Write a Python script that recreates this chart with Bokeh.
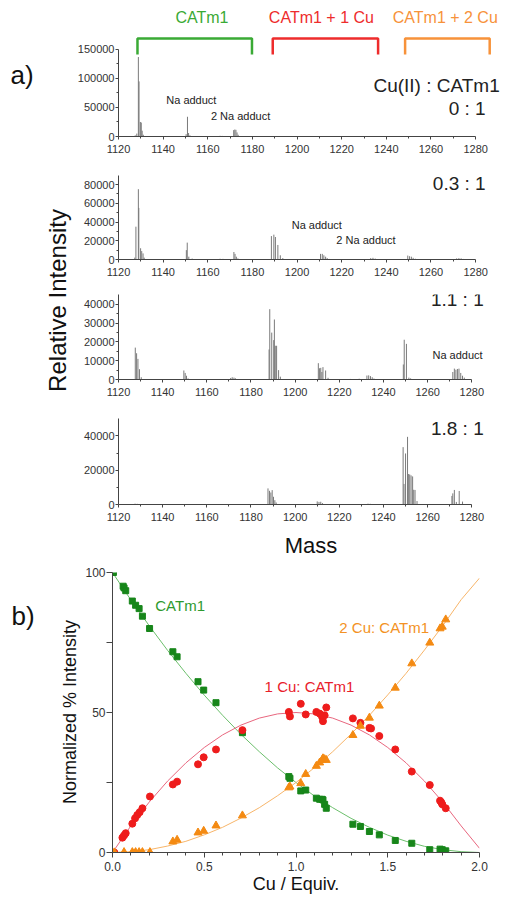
import math
from bokeh.plotting import figure
from bokeh.layouts import column, row
from bokeh.models import Range1d, FixedTicker, BasicTickFormatter, PrintfTickFormatter, Label
from bokeh.embed import file_html
from bokeh.resources import INLINE

FONT = "Liberation Sans"

# ---------------- data: panel a (mass spectra) ----------------
mass_ticks = [1120, 1140, 1160, 1180, 1200, 1220, 1240, 1260, 1280]
mass_minor = [1130, 1150, 1170, 1190, 1210, 1230, 1250, 1270]

ratios = ["0 : 1", "0.3 : 1", "1.1 : 1", "1.8 : 1"]

# Cu(II):CATm1 = 0:1
s0_mass = [1127.5, 1128.2, 1128.9, 1129.2, 1129.8, 1130.2, 1130.6, 1131.1,
           1150.3, 1150.9, 1151.4, 1152.0, 1165.5, 1166.5,
           1171.6, 1172.1, 1172.6, 1173.1, 1173.6]
s0_int = [2000, 5000, 137000, 95000, 25000, 24000, 10000, 3000,
          4000, 34000, 6000, 2000, 1200, 1000,
          11000, 12000, 11500, 7000, 3000]

# 0.3:1
s1_mass = [1127.3, 1127.8, 1128.9, 1129.1, 1129.9, 1130.4, 1131.0, 1131.5,
           1150.4, 1150.8, 1151.5, 1153.0, 1165.5, 1166.8,
           1171.7, 1172.2, 1172.8, 1173.5,
           1188.5, 1189.6, 1190.3, 1191.4, 1192.5, 1193.6,
           1210.5, 1211.3, 1212.0, 1212.8, 1213.5, 1214.5,
           1233.0, 1234.0, 1235.0,
           1249.6, 1250.4, 1251.2, 1252.0, 1253.0,
           1271.5, 1272.5, 1273.5, 1274.5]
s1_int = [2000, 35000, 75000, 55000, 12000, 9000, 6500, 2000,
          10000, 18000, 3000, 1000, 800, 700,
          8000, 6000, 3000, 1200,
          25000, 26500, 24000, 15500, 4500, 1500,
          6000, 6000, 4500, 3000, 1500, 600,
          1500, 1800, 1000,
          4200, 3500, 3000, 1800, 800,
          1200, 1500, 1200, 600]

# 1.1:1
s2_mass = [1127.6, 1128.2, 1128.8, 1129.5, 1130.3,
           1149.6, 1150.2, 1150.8, 1151.5,
           1170.8, 1171.5, 1172.3, 1173.0,
           1188.2, 1188.5, 1189.4, 1190.3, 1190.6, 1191.0, 1191.6, 1192.5, 1193.3,
           1210.5, 1211.0, 1211.6, 1212.1, 1212.6, 1213.8, 1214.9,
           1225.0, 1229.0,
           1232.5, 1233.3, 1234.1, 1234.9, 1235.7,
           1249.0, 1249.4, 1250.4, 1251.5, 1252.3,
           1271.4, 1272.1, 1272.8, 1273.5, 1274.2, 1275.0, 1275.8, 1276.6]
s2_int = [17000, 14000, 11000, 5500, 1200,
          4800, 3500, 2000, 600,
          800, 1200, 1000, 600,
          16000, 37500, 25000, 21000, 32000, 18000, 18000, 5000, 1500,
          8700, 6000, 6200, 4000, 6600, 4800, 900,
          300, 400,
          2100, 2200, 1800, 1200, 500,
          8000, 21200, 19000, 1000, 600,
          4000, 5800, 5200, 5600, 5800, 3500, 2000, 1000]

# 1.8:1
s3_mass = [1127.5, 1128.5,
           1187.7, 1188.4, 1189.0, 1189.6, 1190.2, 1190.8, 1191.4,
           1210.0, 1210.8, 1211.6, 1212.4,
           1233.0, 1234.0,
           1248.9, 1249.3, 1250.0, 1250.9, 1251.4, 1251.9, 1252.5, 1253.2, 1253.7, 1254.3, 1255.2,
           1271.0, 1271.4, 1272.1, 1273.0, 1274.3, 1275.8]
s3_int = [500, 400,
          9400, 8000, 7000, 8400, 4500, 2500, 1200,
          1800, 1500, 1600, 800,
          500, 400,
          33500, 12000, 29800, 39500, 17800, 17500, 17000, 16400, 8600, 8500, 2000,
          5000, 6500, 8500, 1500, 7900, 1700]

# species brackets above panel a
br_names = ["CATm1", "CATm1 + 1 Cu", "CATm1 + 2 Cu"]
br_start = [1128.5, 1189.1, 1248.4]
br_end = [1179.8, 1236.3, 1286.3]
br_colors = ["#3aaa35", "#ee2c2c", "#f7923a"]

# ---------------- data: panel b (titration) ----------------
g_x = [0.005, 0.058, 0.063, 0.072, 0.108, 0.126, 0.145, 0.163, 0.202, 0.329, 0.352,
       0.466, 0.497, 0.564, 0.708, 0.961, 0.967, 1.026, 1.053, 1.111, 1.129, 1.142,
       1.147, 1.156, 1.165, 1.310, 1.351, 1.400, 1.454, 1.541, 1.631, 1.729, 1.785,
       1.797, 1.816]
g_y = [100, 95.1, 94.5, 93.5, 89.8, 88.3, 87.1, 84.4, 80.0, 71.7, 69.9,
       61.0, 58.0, 53.5, 42.8, 27.1, 26.5, 22.0, 22.3, 19.4, 19.0, 19.0,
       18.8, 17.2, 15.8, 10.1, 9.3, 7.5, 6.3, 4.3, 3.3, 1.0, 1.2,
       1.0, 0.6]

r_x = [0.01, 0.054, 0.063, 0.072, 0.108, 0.123, 0.135, 0.148, 0.163, 0.204, 0.329,
       0.352, 0.466, 0.497, 0.564, 0.708, 0.961, 0.967, 1.026, 1.053, 1.111, 1.129,
       1.142, 1.147, 1.156, 1.165, 1.310, 1.351, 1.400, 1.409, 1.454, 1.541, 1.631,
       1.729, 1.785, 1.792, 1.797, 1.816]
r_y = [0, 5.3, 6.1, 6.9, 10.3, 12.2, 13.4, 14.4, 15.8, 20.0, 24.3,
       25.3, 31.5, 34.0, 36.8, 43.7, 50.2, 48.6, 53.1, 49.3, 50.2, 49.6,
       48.5, 46.9, 49.0, 51.8, 47.9, 46.3, 44.5, 44.3, 41.6, 36.8, 28.9,
       24.1, 18.5, 17.9, 17.2, 15.8]

o_x = [0.01, 0.063, 0.108, 0.126, 0.145, 0.163, 0.204, 0.329, 0.352, 0.466, 0.497,
       0.564, 0.708, 0.961, 0.967, 1.026, 1.053, 1.111, 1.129, 1.142, 1.147, 1.156,
       1.165, 1.310, 1.351, 1.400, 1.454, 1.541, 1.631, 1.729, 1.785, 1.797, 1.816]
o_y = [0, 0.1, 0.1, 0.1, 0.1, 0.1, 0.1, 3.9, 4.5, 7.1, 7.7,
       9.6, 13.2, 23.2, 23.5, 24.7, 28.0, 30.9, 32.1, 33.0, 33.6, 33.3,
       33.0, 41.9, 45.2, 48.1, 52.4, 58.8, 67.5, 74.9, 80.0, 80.6, 83.2]

# fitted curves, read at 0.1 steps
fit_x = [0.0, 0.1, 0.2, 0.3, 0.4, 0.5, 0.6, 0.7, 0.8, 0.9, 1.0,
         1.1, 1.2, 1.3, 1.4, 1.5, 1.6, 1.7, 1.8, 1.9, 2.0]
fit_g = [100, 90.2, 81, 72.2, 64, 56.2, 49, 42.2, 36, 30.2, 25,
         20.2, 16, 12.2, 9, 6.2, 4, 2.2, 1, 0.3, 0]
fit_r = [0, 9.5, 18, 25.5, 32, 37.5, 42, 45.5, 48, 49.5, 50,
         49.5, 48, 45.5, 42, 37.5, 32, 25.5, 18, 9.5, 1.5]
fit_o = [0, 0.3, 1, 2.3, 4, 6.3, 9, 12.3, 16, 20.3, 25,
         30.3, 36, 42.3, 49, 56.3, 64, 72.3, 81, 90.3, 98]

b_xticks = [0.0, 0.5, 1.0, 1.5, 2.0]
b_xminor = [0.1, 0.2, 0.3, 0.4, 0.6, 0.7, 0.8, 0.9, 1.1, 1.2, 1.3, 1.4, 1.6, 1.7, 1.8, 1.9]
b_yticks = [0, 50, 100]
b_yminor = [25, 75]

AX = "#444444"
TK = "#333333"


def style_axes(p, fs="11px"):
    for ax in (p.xaxis[0], p.yaxis[0]):
        ax.axis_line_color = AX
        ax.major_tick_line_color = AX
        ax.minor_tick_line_color = AX
        ax.major_tick_in = 0
        ax.minor_tick_in = 0
        ax.major_tick_out = 3
        ax.minor_tick_out = 2
        ax.major_label_text_font = FONT
        ax.major_label_text_font_size = fs
        ax.major_label_text_color = TK
        ax.axis_label_text_font = FONT
        ax.axis_label_text_font_style = "normal"
        ax.axis_label_text_color = "#111111"


def spec_fig(h, b_top, b_bot, b_left, fw, ppd, ytop, yt, ytm, ybound, mass, inten):
    p = figure(width=b_left + fw + 2, height=h, output_backend="svg", toolbar_location=None,
               x_range=Range1d(1120, 1120 + fw / ppd), y_range=Range1d(0, ytop),
               min_border_left=b_left, min_border_right=2, min_border_top=b_top,
               min_border_bottom=b_bot)
    p.outline_line_color = None
    p.grid.grid_line_color = None
    p.segment(x0=mass, y0=[0] * len(mass), x1=mass, y1=inten,
              line_color="#7a7a7a", line_width=1)
    style_axes(p)
    p.xaxis[0].ticker = FixedTicker(ticks=mass_ticks, minor_ticks=mass_minor)
    p.xaxis[0].bounds = (mass_ticks[0], mass_ticks[-1])
    p.xaxis[0].major_label_standoff = 5
    p.yaxis[0].ticker = FixedTicker(ticks=yt, minor_ticks=ytm)
    p.yaxis[0].formatter = BasicTickFormatter(use_scientific=False)
    p.yaxis[0].major_label_standoff = 1
    if ybound is not None:
        p.yaxis[0].bounds = ybound
    return p


def lab(p, x, y, text, size, color="#222222", align="left", angle=0.0):
    p.add_layout(Label(x=x, y=y, text=text, text_font=FONT, text_font_size=size,
                       text_color=color, text_align=align, text_baseline="middle",
                       angle=angle))


def strip(w, h):
    s = figure(width=w, height=h, x_range=Range1d(0, w), y_range=Range1d(h, 0),
               x_axis_location=None, y_axis_location=None, min_border=0,
               output_backend="svg", toolbar_location=None)
    s.outline_line_color = None
    s.grid.grid_line_color = None
    return s


# panel 1
f1 = spec_fig(162, 0, 26, 42, 387, 2.2437, 234480,
              [0, 50000, 100000, 150000], [25000, 75000, 125000], (0, 150000),
              s0_mass, s0_int)
xs = [[a, a, b, b] for a, b in zip(br_start, br_end)]
ys = [[141400, 169000, 169000, 141400] for _ in br_start]
f1.multi_line(xs=xs, ys=ys, line_color=br_colors, line_width=2.5)
for name, xc, col in zip(br_names, [1157.4, 1210.9, 1266.4], br_colors):
    lab(f1, xc, 205000, name, "16px", col, "center")
lab(f1, 1290.8, 87900, "Cu(II) : CATm1", "19px", "#222222", "right")
lab(f1, 1284.5, 48300, ratios[0], "19px", "#222222", "right")
lab(f1, 1141.4, 62100, "Na adduct", "11px")
lab(f1, 1161.4, 36200, "2 Na adduct", "11px")

# panel 2
f2 = spec_fig(123, 13, 26, 42, 387, 2.2437, 89600,
              [0, 20000, 40000, 60000, 80000], [10000, 30000, 50000, 70000], None,
              s1_mass, s1_int)
lab(f2, 1284.5, 81000, ratios[1], "19px", "#222222", "right")
lab(f2, 1197.6, 37300, "Na adduct", "11px")
lab(f2, 1217.6, 21300, "2 Na adduct", "11px")

# panel 3
f3 = spec_fig(120, 9, 26, 40, 389, 2.231, 45333,
              [0, 10000, 20000, 30000, 40000], [5000, 15000, 25000, 35000], None,
              s2_mass, s2_int)
lab(f3, 1285.4, 42700, ratios[2], "19px", "#222222", "right")
lab(f3, 1284.9, 13300, "Na adduct", "11px", "#222222", "right")

# panel 4
f4 = spec_fig(155, 13, 56, 40, 389, 2.231, 50215,
              [0, 20000, 40000], [10000, 30000], None,
              s3_mass, s3_int)
lab(f4, 1285.4, 44400, ratios[3], "19px", "#222222", "right")
f4.xaxis[0].axis_label = "Mass"
f4.xaxis[0].axis_label_text_font_size = "22px"
f4.xaxis[0].axis_label_standoff = 9

# left strip: panel letter and shared y label
lf = strip(74, 560)
lab(lf, 10, 74, "a)", "26px", "#111111")
lab(lf, 56.5, 300, "Relative Intensity", "24px", "#111111", "center", math.pi / 2)

# panel b
lf2 = strip(82, 337)
lab(lf2, 11, 52, "b)", "26px", "#111111")
lab(lf2, 69, 168, "Normalized % Intensity", "18px", "#111111", "center", math.pi / 2)

f5 = figure(width=423, height=337, output_backend="svg", toolbar_location=None,
            x_range=Range1d(0, 2), y_range=Range1d(0, 100),
            min_border_left=28, min_border_right=26, min_border_top=12, min_border_bottom=45)
f5.outline_line_color = None
f5.grid.grid_line_color = None
f5.line(fit_x, fit_g, line_color="#6cbf6c", line_width=1)
f5.line(fit_x, fit_r, line_color="#e8667e", line_width=1)
f5.line(fit_x, fit_o, line_color="#f7b56a", line_width=1)
f5.scatter(g_x, g_y, marker="square", size=6, fill_color="#17861a", line_color="#17861a")
f5.scatter(r_x, r_y, marker="circle", size=7, fill_color="#ee1c1c", line_color="#ee1c1c")
f5.scatter(o_x, o_y, marker="triangle", size=8, fill_color="#f48a12", line_color="#f48a12")
style_axes(f5, "12px")
f5.xaxis[0].ticker = FixedTicker(ticks=b_xticks, minor_ticks=b_xminor)
f5.xaxis[0].formatter = PrintfTickFormatter(format="%.1f")
f5.xaxis[0].major_tick_out = 5
f5.xaxis[0].minor_tick_out = 3
f5.xaxis[0].major_label_standoff = 4
f5.xaxis[0].axis_label = "Cu / Equiv."
f5.xaxis[0].axis_label_text_font_size = "18px"
f5.xaxis[0].axis_label_standoff = 0
f5.yaxis[0].ticker = FixedTicker(ticks=b_yticks, minor_ticks=b_yminor)
f5.yaxis[0].major_tick_out = 6
f5.yaxis[0].minor_tick_out = 6
f5.yaxis[0].major_label_standoff = 1
lab(f5, 0.233, 88.2, "CATm1", "15px", "#2e9a2e")
lab(f5, 1.236, 80.4, "2 Cu: CATm1", "15px", "#f39224")
lab(f5, 0.829, 59.3, "1 Cu: CATm1", "15px", "#e8202a")

layout = column(row(lf, column(f1, f2, f3, f4)), row(lf2, f5))
open("out.html", "w").write(file_html(layout, INLINE))
